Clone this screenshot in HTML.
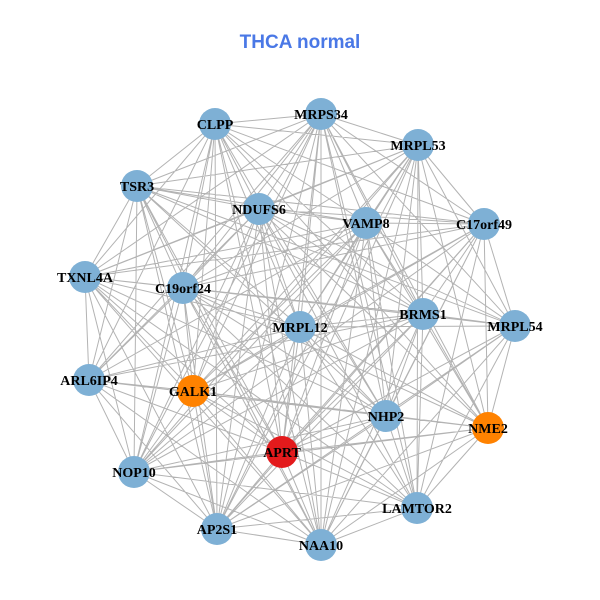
<!DOCTYPE html>
<html><head><style>body{margin:0;background:#fff}svg{display:block}</style></head>
<body>
<svg width="600" height="600" xmlns="http://www.w3.org/2000/svg">
<rect width="600" height="600" fill="#fff"/>
<text x="300" y="48" text-anchor="middle" font-family="Liberation Sans, sans-serif" font-weight="bold" font-size="19" fill="#4a78e6">THCA normal</text>
<path fill="none" stroke="#b3b3b3" stroke-width="1" d="
M215 124 L321 114 215 124 418 145 215 124 137 186 215 124 259 209 215 124 366 223 215 124 484 224 215 124 85 277 215 124 183 288 215 124 423 314 215 124 300 327 215 124 89 380 215 124 193 391 215 124 386 416 215 124 488 428 215 124 282 452 215 124 134 472 215 124 217 529 215 124 321 545
M321 114 L418 145 321 114 137 186 321 114 259 209 321 114 366 223 321 114 484 224 321 114 85 277 321 114 183 288 321 114 423 314 321 114 515 326 321 114 300 327 321 114 89 380 321 114 193 391 321 114 386 416 321 114 488 428 321 114 282 452 321 114 134 472 321 114 417 508 321 114 217 529 321 114 321 545
M418 145 L137 186 418 145 259 209 418 145 366 223 418 145 484 224 418 145 85 277 418 145 183 288 418 145 423 314 418 145 515 326 418 145 300 327 418 145 193 391 418 145 386 416 418 145 488 428 418 145 282 452 418 145 134 472 418 145 417 508 418 145 217 529 418 145 321 545
M137 186 L259 209 137 186 366 223 137 186 484 224 137 186 85 277 137 186 183 288 137 186 423 314 137 186 515 326 137 186 300 327 137 186 89 380 137 186 193 391 137 186 386 416 137 186 282 452 137 186 134 472 137 186 217 529 137 186 321 545
M259 209 L366 223 259 209 484 224 259 209 85 277 259 209 183 288 259 209 423 314 259 209 515 326 259 209 300 327 259 209 89 380 259 209 193 391 259 209 386 416 259 209 488 428 259 209 282 452 259 209 134 472 259 209 417 508 259 209 217 529 259 209 321 545
M366 223 L484 224 366 223 85 277 366 223 183 288 366 223 423 314 366 223 515 326 366 223 300 327 366 223 89 380 366 223 193 391 366 223 386 416 366 223 488 428 366 223 282 452 366 223 134 472 366 223 417 508 366 223 217 529 366 223 321 545
M484 224 L85 277 484 224 183 288 484 224 423 314 484 224 515 326 484 224 300 327 484 224 193 391 484 224 386 416 484 224 488 428 484 224 282 452 484 224 134 472 484 224 417 508 484 224 217 529 484 224 321 545
M85 277 L183 288 85 277 423 314 85 277 300 327 85 277 89 380 85 277 193 391 85 277 386 416 85 277 282 452 85 277 134 472 85 277 417 508 85 277 217 529 85 277 321 545
M183 288 L423 314 183 288 515 326 183 288 300 327 183 288 89 380 183 288 193 391 183 288 386 416 183 288 488 428 183 288 282 452 183 288 134 472 183 288 417 508 183 288 217 529 183 288 321 545
M423 314 L515 326 423 314 300 327 423 314 89 380 423 314 193 391 423 314 386 416 423 314 488 428 423 314 282 452 423 314 134 472 423 314 417 508 423 314 217 529 423 314 321 545
M515 326 L300 327 515 326 386 416 515 326 488 428 515 326 282 452 515 326 417 508 515 326 217 529 515 326 321 545
M300 327 L89 380 300 327 193 391 300 327 386 416 300 327 488 428 300 327 282 452 300 327 134 472 300 327 417 508 300 327 217 529 300 327 321 545
M89 380 L193 391 89 380 386 416 89 380 282 452 89 380 134 472 89 380 217 529 89 380 321 545
M193 391 L386 416 193 391 488 428 193 391 282 452 193 391 134 472 193 391 417 508 193 391 217 529 193 391 321 545
M386 416 L488 428 386 416 282 452 386 416 134 472 386 416 417 508 386 416 217 529 386 416 321 545
M488 428 L282 452 488 428 134 472 488 428 417 508 488 428 217 529 488 428 321 545
M282 452 L134 472 282 452 417 508 282 452 217 529 282 452 321 545
M134 472 L417 508 134 472 217 529 134 472 321 545
M417 508 L217 529 417 508 321 545
M217 529 L321 545"/>
<g fill="#7eb0d5">
<circle cx="215" cy="124" r="16"/><circle cx="321" cy="114" r="16"/><circle cx="418" cy="145" r="16"/><circle cx="137" cy="186" r="16"/><circle cx="259" cy="209" r="16"/><circle cx="366" cy="223" r="16"/><circle cx="484" cy="224" r="16"/><circle cx="85" cy="277" r="16"/><circle cx="183" cy="288" r="16"/><circle cx="423" cy="314" r="16"/><circle cx="515" cy="326" r="16"/><circle cx="300" cy="327" r="16"/><circle cx="89" cy="380" r="16"/><circle cx="386" cy="416" r="16"/><circle cx="134" cy="472" r="16"/><circle cx="417" cy="508" r="16"/><circle cx="217" cy="529" r="16"/><circle cx="321" cy="545" r="16"/>
</g>
<circle cx="193" cy="391" r="16" fill="#ff8200"/>
<circle cx="488" cy="428" r="16" fill="#ff8200"/>
<circle cx="282" cy="452" r="16" fill="#e31a1c"/>
<g font-family="Liberation Serif, serif" font-weight="bold" font-size="14" text-anchor="middle" fill="#000">
<text x="215" y="129">CLPP</text><text x="321" y="119">MRPS34</text><text x="418" y="150">MRPL53</text><text x="137" y="191">TSR3</text><text x="259" y="214">NDUFS6</text><text x="366" y="228">VAMP8</text><text x="484" y="229">C17orf49</text><text x="85" y="282">TXNL4A</text><text x="183" y="293">C19orf24</text><text x="423" y="319">BRMS1</text><text x="515" y="331">MRPL54</text><text x="300" y="332">MRPL12</text><text x="89" y="385">ARL6IP4</text><text x="193" y="396">GALK1</text><text x="386" y="421">NHP2</text><text x="488" y="433">NME2</text><text x="282" y="457">APRT</text><text x="134" y="477">NOP10</text><text x="417" y="513">LAMTOR2</text><text x="217" y="534">AP2S1</text><text x="321" y="550">NAA10</text>
</g>
</svg>
</body></html>
